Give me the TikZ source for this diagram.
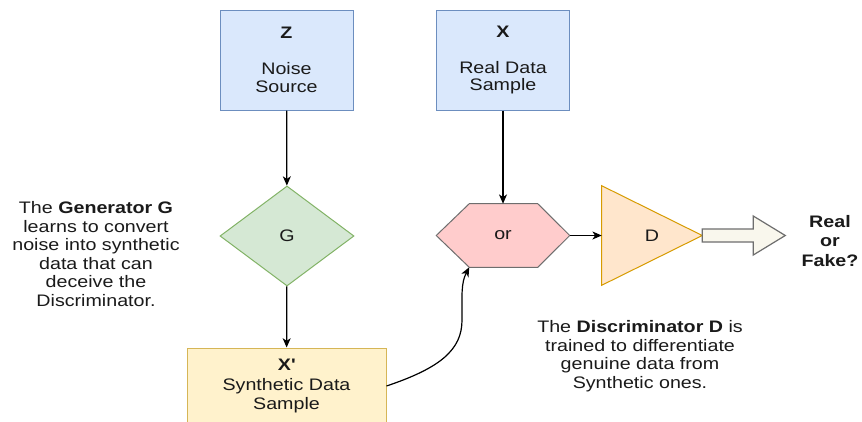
\documentclass[tikz,border=0pt]{standalone}
\usepackage{fontspec}
\setmainfont{Liberation Sans}[FakeStretch=1.18]
\usetikzlibrary{arrows.meta,shapes.geometric,calc}

\definecolor{blueFill}{HTML}{DAE8FC}
\definecolor{blueLine}{HTML}{6C8EBF}
\definecolor{greenFill}{HTML}{D5E8D4}
\definecolor{greenLine}{HTML}{82B366}
\definecolor{yellowFill}{HTML}{FFF2CC}
\definecolor{yellowLine}{HTML}{D6B656}
\definecolor{pinkFill}{HTML}{FFCCCC}
\definecolor{greyLine}{HTML}{6E6E6E}
\definecolor{orangeFill}{HTML}{FFE6CC}
\definecolor{orangeLine}{HTML}{D79B00}
\definecolor{creamFill}{HTML}{F9F7ED}
\definecolor{inkText}{HTML}{1A1A1A}

\begin{document}
\begin{tikzpicture}[x=0.75pt,y=-0.75pt,
  every node/.style={text=inkText},
  srcbox/.style={draw=blueLine,fill=blueFill,line width=0.75pt,
    minimum width=99.75pt,minimum height=75pt,inner sep=0pt,align=center,
    font=\fontsize{12.5}{13}\selectfont},
  synbox/.style={draw=yellowLine,fill=yellowFill,line width=0.75pt,
    minimum width=149.25pt,minimum height=57pt,inner sep=0pt,align=center,
    font=\fontsize{12.5}{14.6}\selectfont},
  gendiamond/.style={diamond,draw=greenLine,fill=greenFill,line width=0.75pt,
    minimum width=100.5pt,minimum height=75pt,inner sep=0pt,
    font=\fontsize{12.5}{13}\selectfont},
  frame/.style={minimum width=#1,inner sep=0pt,font=\fontsize{12.5}{13}\selectfont},
  note/.style={align=center,inner sep=0pt,font=\fontsize{12.5}{13.9}\selectfont},
  conn/.style={draw=black,line width=0.9pt,-{Stealth[length=7pt,width=6pt,inset=2pt]}},
]
\clip (0,0) rectangle (862,421);
\fill[white] (0,0) rectangle (862,421);

% source boxes
\node[srcbox] (zbox) at (286.5,60) {\textbf{Z}\\[14pt]Noise\\Source};
\node[srcbox] (xbox) at (503,60) {\textbf{X}\\[14pt]Real Data\\Sample};

% generator
\node[gendiamond] (g) at (287,236) {G};

% synthetic sample
\node[synbox] (xp) at (286.5,386) {\textbf{X\textquotesingle}\\Synthetic Data\\Sample};

% selector hexagon
\node[frame=99.75pt,minimum height=47.25pt] (hex) at (503,235.5) {};
\filldraw[fill=pinkFill,draw=greyLine,line width=0.75pt]
  (hex.west) -- ([xshift=24.75pt]hex.north west) -- ([xshift=-24pt]hex.north east)
  -- (hex.east) -- ([xshift=-24pt]hex.south east) -- ([xshift=24.75pt]hex.south west) -- cycle;
\node[font=\fontsize{12.5}{13}\selectfont] (ortext) at (hex.center) {or};
\coordinate (hexbl) at ([xshift=24.75pt]hex.south west);

% discriminator triangle
\node[frame=75pt,minimum height=74.25pt] (dtri) at (652,235.5) {};
\filldraw[fill=orangeFill,draw=orangeLine,line width=0.75pt]
  (dtri.north west) -- (dtri.east) -- (dtri.south west) -- cycle;
\node[font=\fontsize{12.5}{13}\selectfont] (dtext) at (dtri.center) {D};

% output block arrow
\coordinate (ba) at (dtri.east);
\filldraw[fill=creamFill,draw=greyLine,line width=0.9pt,line join=miter]
  ($(ba)+(0,-6.5)$) -- ++(51,0) -- ++(0,-13) -- ++(32,19.5) -- ++(-32,19.5)
  -- ++(0,-13) -- ++(-51,0) -- cycle;

\node[note,font=\fontsize{12.5}{14.3}\selectfont\bfseries] (verdict) at (830,241) {Real\\or\\Fake?};

% annotations
\node[note] (gnote) at (96,254) {The \textbf{Generator G}\\learns to convert\\noise into synthetic\\data that can\\deceive the\\Discriminator.};
\node[note] (dnote) at (640,356) {The \textbf{Discriminator D} is\\trained to differentiate\\genuine data from\\Synthetic ones.};

% connectors
\draw[conn] (zbox) -- (g);
\draw[conn] (g) -- (xp);
\draw[conn] (xbox) -- (hex);
\draw[conn] (hex.east) -- (dtri.west);
\draw[conn] (xp.east) .. controls (440,368) and (462,350) .. (462,320)
  .. controls (462,295) and (461,283) .. (hexbl);
\end{tikzpicture}
\end{document}
